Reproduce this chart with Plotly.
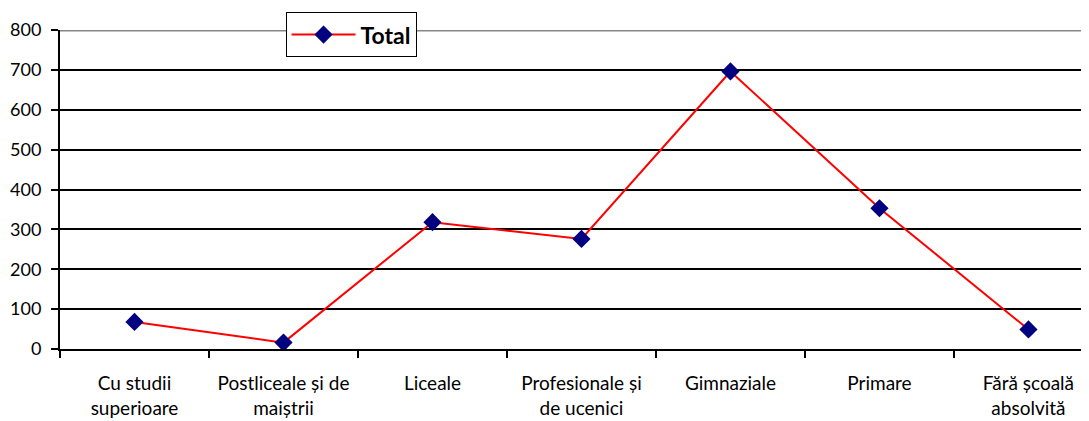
import plotly.graph_objects as go

categories = ["Cu studii<br>superioare", "Postliceale și de<br>maiștrii", "Liceale",
              "Profesionale și<br>de ucenici", "Gimnaziale", "Primare", "Fără școală<br>absolvită"]
total = [68, 16, 318, 276, 696, 353, 49]
y_ticks = [0, 100, 200, 300, 400, 500, 600, 700, 800]

fig = go.Figure()
fig.add_trace(go.Scatter(
    x=categories, y=total, mode="lines+markers", name="<b>Total</b>",
    line=dict(color="#FF0000", width=2),
    marker=dict(symbol="diamond", size=14, color="#000080"),
))

fig.add_shape(type="line", xref="paper", yref="y", x0=0, x1=1, y0=800, y1=800,
              line=dict(color="#868686", width=3), layer="above")

fig.update_layout(
    width=1089, height=421,
    margin=dict(l=52, r=0, t=22, b=80),
    paper_bgcolor="white", plot_bgcolor="white",
    font=dict(family="Lato, 'Open Sans', sans-serif", size=18, color="black"),
    showlegend=True,
    legend=dict(x=0.2175, y=1.056, xanchor="left", yanchor="top",
                bordercolor="black", borderwidth=1, bgcolor="white",
                font=dict(size=23, color="black"), itemwidth=64,
                tracegroupgap=0),
    xaxis=dict(
        type="category", range=[-0.5, 6.46], showgrid=False,
        showline=True, linecolor="black", linewidth=2,
        ticks="outside", tickson="boundaries", ticklen=7, tickwidth=2, tickcolor="black",
        tickfont=dict(size=19), ticklabelstandoff=16,
    ),
    yaxis=dict(
        range=[0, 800], tickvals=y_ticks, showgrid=True, gridcolor="black", gridwidth=2,
        showline=True, linecolor="black", linewidth=2,
        ticks="outside", ticklen=7, tickwidth=2, tickcolor="black",
        tickfont=dict(size=18), zeroline=False, ticklabelstandoff=6,
    ),
)

fig.write_html("out.html")
